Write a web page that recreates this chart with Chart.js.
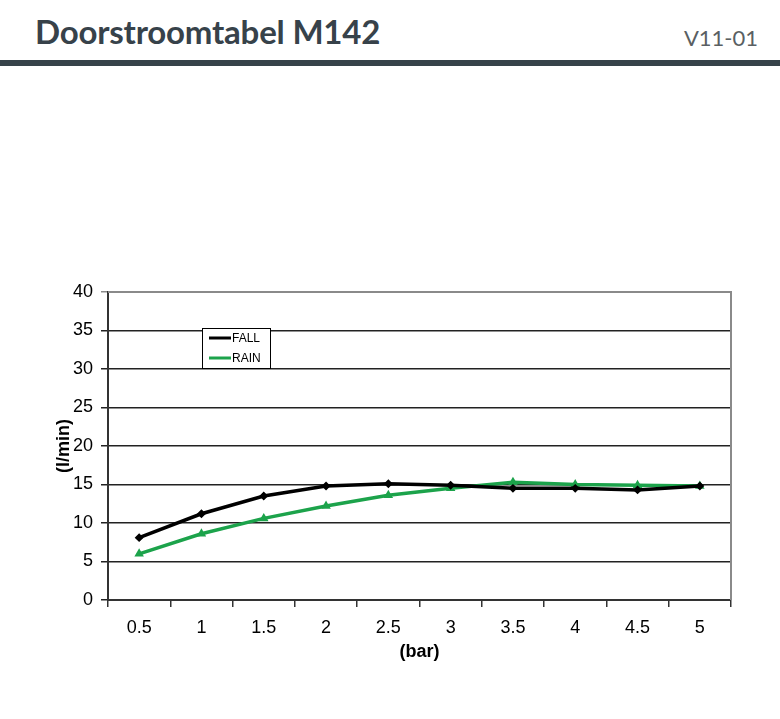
<!DOCTYPE html>
<html lang="nl">

<head>
    <meta charset="UTF-8">
    <meta name="viewport" content="width=device-width, initial-scale=1.0">
    <script src="https://cdn.jsdelivr.net/npm/chart.js"></script>
    <title>Doorstroomtabel M142</title>
    <style>
        html, body { margin: 0; padding: 0; background: #fff; }
        body { width: 780px; height: 719px; position: relative; overflow: hidden; }
        .kop { position: absolute; left: 0; top: 0; width: 780px; height: 60px; font-family: Lato, sans-serif; }
        .kop h1 { position: absolute; left: 35px; top: 11px; margin: 0; font-size: 33px; font-weight: 700; color: #37424a; letter-spacing: -0.2px; }
        .kop span { position: absolute; right: 22px; top: 24px; font-size: 22px; color: #5a5f63; font-weight: 400; }
        .balk { position: absolute; left: 0; top: 60px; width: 780px; height: 6px; background: #37434a; }
        #grafiek { position: absolute; left: 0; top: 0; }
    </style>
</head>

<body>
    <div class="kop">
        <h1>Doorstroomtabel M142</h1>
        <span>V11-01</span>
    </div>
    <div class="balk"></div>
    <canvas id="grafiek" width="780" height="719"></canvas>
</body>

</html>
<script>
    // druk in bar
    const druk = ['0.5', '1', '1.5', '2', '2.5', '3', '3.5', '4', '4.5', '5'];
    // doorstroming in l/min
    const fall = [8.1, 11.2, 13.5, 14.8, 15.1, 14.9, 14.5, 14.5, 14.3, 14.8];
    const rain = [6.0, 8.6, 10.6, 12.2, 13.6, 14.5, 15.3, 15.0, 14.9, 14.8];
    const yTicks = [0, 5, 10, 15, 20, 25, 30, 35, 40];

    // legenda in het grafiekvlak, zoals in het origineel
    const legendaBox = {
        id: 'legendaBox',
        afterDraw(chart) {
            const ctx = chart.ctx;
            const x = 202, y = 328, w = 68, h = 40;
            ctx.save();
            ctx.fillStyle = '#fff';
            ctx.fillRect(x, y, w, h);
            ctx.strokeStyle = '#000';
            ctx.lineWidth = 1;
            ctx.strokeRect(x + 0.5, y + 0.5, w, h);
            ctx.font = '12px "Liberation Sans", Arial, sans-serif';
            ctx.textBaseline = 'middle';
            chart.data.datasets.forEach(function (ds, i) {
                const ly = y + 10 + i * 20;
                ctx.strokeStyle = ds.borderColor;
                ctx.lineWidth = 3;
                ctx.beginPath();
                ctx.moveTo(x + 7, ly);
                ctx.lineTo(x + 29, ly);
                ctx.stroke();
                ctx.fillStyle = '#000';
                ctx.fillText(ds.label, x + 30, ly + 1);
            });
            ctx.restore();
        }
    };

    // grijze rand boven en rechts
    const rand = {
        id: 'rand',
        beforeDatasetsDraw(chart) {
            const a = chart.chartArea;
            const ctx = chart.ctx;
            ctx.save();
            ctx.strokeStyle = '#8a8a8a';
            ctx.lineWidth = 2;
            ctx.beginPath();
            ctx.moveTo(a.left, a.top);
            ctx.lineTo(a.right, a.top);
            ctx.lineTo(a.right, a.bottom);
            ctx.stroke();
            ctx.restore();
        }
    };

    const tekst = { family: '"Liberation Sans", Arial, sans-serif', size: 18 };

    new Chart(document.getElementById('grafiek'), {
        type: 'line',
        data: {
            labels: druk,
            datasets: [{
                label: 'FALL',
                data: fall,
                borderColor: '#000',
                backgroundColor: '#000',
                borderWidth: 3.5,
                pointStyle: 'rectRot',
                pointRadius: 2,
                tension: 0
            }, {
                label: 'RAIN',
                data: rain,
                borderColor: '#1ca34b',
                backgroundColor: '#1ca34b',
                borderWidth: 3.5,
                pointStyle: 'triangle',
                pointRadius: 2,
                tension: 0
            }]
        },
        options: {
            responsive: false,
            animation: false,
            layout: { padding: { top: 292, left: 53, right: 49, bottom: 56 } },
            plugins: {
                legend: { display: false },
                tooltip: { enabled: false }
            },
            scales: {
                x: {
                    offset: true,
                    afterFit(s) { s.height = 63; },
                    grid: {
                        offset: true,
                        drawOnChartArea: false,
                        drawTicks: true,
                        tickLength: 7,
                        color: '#333',
                        lineWidth: 1.5
                    },
                    border: { color: '#333', width: 2 },
                    ticks: { color: '#000', font: tekst, padding: 10, maxRotation: 0 },
                    title: {
                        display: true,
                        text: '(bar)',
                        color: '#000',
                        font: { family: tekst.family, size: 18, weight: 'bold' },
                        padding: 0
                    }
                },
                y: {
                    min: 0,
                    max: 40,
                    afterFit(s) { s.width = 55; },
                    afterBuildTicks(s) { s.ticks = yTicks.map(v => ({ value: v })); },
                    grid: {
                        color: ctx => ctx.tick && ctx.tick.value === 40 ? '#8a8a8a' : '#222',
                        lineWidth: 1.5,
                        tickLength: 7
                    },
                    border: { color: '#333', width: 2 },
                    ticks: { color: '#000', font: tekst, padding: 8 },
                    title: {
                        display: true,
                        text: '(l/min)',
                        color: '#000',
                        font: { family: tekst.family, size: 18, weight: 'bold' },
                        padding: 0
                    }
                }
            }
        },
        plugins: [rand, legendaBox]
    });
</script>
